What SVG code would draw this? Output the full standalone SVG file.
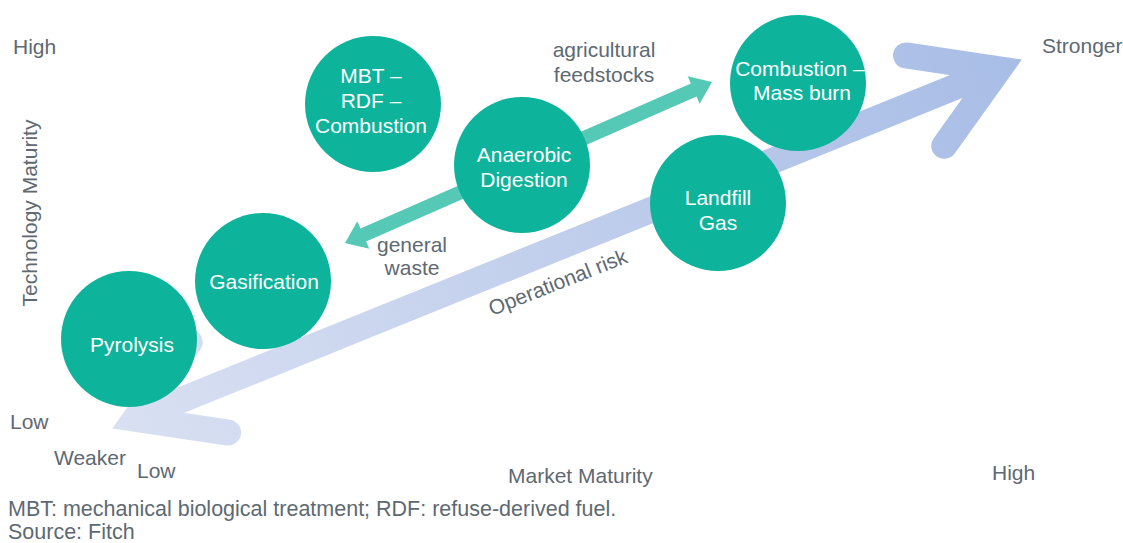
<svg xmlns="http://www.w3.org/2000/svg" width="1123" height="543" viewBox="0 0 1123 543">
  <defs>
    <linearGradient id="riskGrad" gradientUnits="userSpaceOnUse" x1="112" y1="428" x2="1022" y2="60">
      <stop offset="0" stop-color="#d9e0f2"/>
      <stop offset="1" stop-color="#a8bde6"/>
    </linearGradient>
    <style>
      .lbl { font-family: "Liberation Sans", Arial, sans-serif; font-size: 21px; fill: #5e6972; }
      .note { font-size: 21.5px; }
      .node circle { fill: #0db39b; }
      .node text { font-family: "Liberation Sans", Arial, sans-serif; font-size: 21px; fill: #ffffff; text-anchor: middle; }
      .risk { fill: none; stroke: url(#riskGrad); stroke-width: 26; }
      .risk-head { stroke-linecap: round; stroke-linejoin: miter; }
      .feed { fill: #55c8b6; }
    </style>
  </defs>

  <!-- Axis labels -->
  <text class="lbl" x="13" y="54">High</text>
  <text class="lbl" x="10" y="429">Low</text>
  <text class="lbl" transform="translate(37,213) rotate(-90)" text-anchor="middle">Technology Maturity</text>
  <text class="lbl" x="54" y="465">Weaker</text>
  <text class="lbl" x="137" y="478">Low</text>
  <text class="lbl" x="508" y="483">Market Maturity</text>
  <text class="lbl" x="992" y="480">High</text>
  <text class="lbl" x="1042" y="53">Stronger</text>

  <!-- Connectors -->
  <g id="connectors">
    <!-- Operational risk double arrow -->
    <g id="risk-arrow">
      <path class="risk" d="M135.1,418.7 L998.9,69.3"/>
      <path class="risk risk-head" d="M906,55.4 L998.9,69.3 L944.3,145.8"/>
      <path class="risk risk-head" d="M228.1,432.6 L135.1,418.7 L189.7,342.2"/>
    </g>
    <!-- Feedstock double arrow -->
    <polygon id="feed-arrow" class="feed" points="712,82 699.7,103.7 696.5,96.4 366.1,241.4 369.3,248.7 345,243 357.3,221.3 360.5,228.6 690.9,83.6 687.7,76.3"/>
  </g>

  <!-- Connector labels -->
  <text class="lbl" transform="translate(492,316) rotate(-21.5)">Operational risk</text>
  <text class="lbl" x="604" y="57" text-anchor="middle">agricultural</text>
  <text class="lbl" x="604" y="82" text-anchor="middle">feedstocks</text>
  <text class="lbl" x="412" y="252" text-anchor="middle">general</text>
  <text class="lbl" x="412" y="275" text-anchor="middle">waste</text>

  <!-- Technology nodes -->
  <g id="node-mbt" class="node">
    <circle cx="373" cy="104" r="68"/>
    <text x="371" y="83">MBT –</text>
    <text x="371" y="108">RDF –</text>
    <text x="371" y="133">Combustion</text>
  </g>
  <g id="node-ad" class="node">
    <circle cx="522" cy="165" r="68"/>
    <text x="524" y="162">Anaerobic</text>
    <text x="524" y="187">Digestion</text>
  </g>
  <g id="node-massburn" class="node">
    <circle cx="798" cy="83" r="68"/>
    <text x="800" y="76">Combustion –</text>
    <text x="802" y="100">Mass burn</text>
  </g>
  <g id="node-landfill" class="node">
    <circle cx="718" cy="203" r="68"/>
    <text x="718" y="205">Landfill</text>
    <text x="718" y="230">Gas</text>
  </g>
  <g id="node-gasification" class="node">
    <circle cx="263" cy="281" r="68"/>
    <text x="264" y="289">Gasification</text>
  </g>
  <g id="node-pyrolysis" class="node">
    <circle cx="129" cy="339" r="68"/>
    <text x="132" y="352">Pyrolysis</text>
  </g>

  <!-- Footnote -->
  <text class="lbl note" x="8" y="516">MBT: mechanical biological treatment; RDF: refuse-derived fuel.</text>
  <text class="lbl note" x="8" y="539">Source: Fitch</text>
</svg>
